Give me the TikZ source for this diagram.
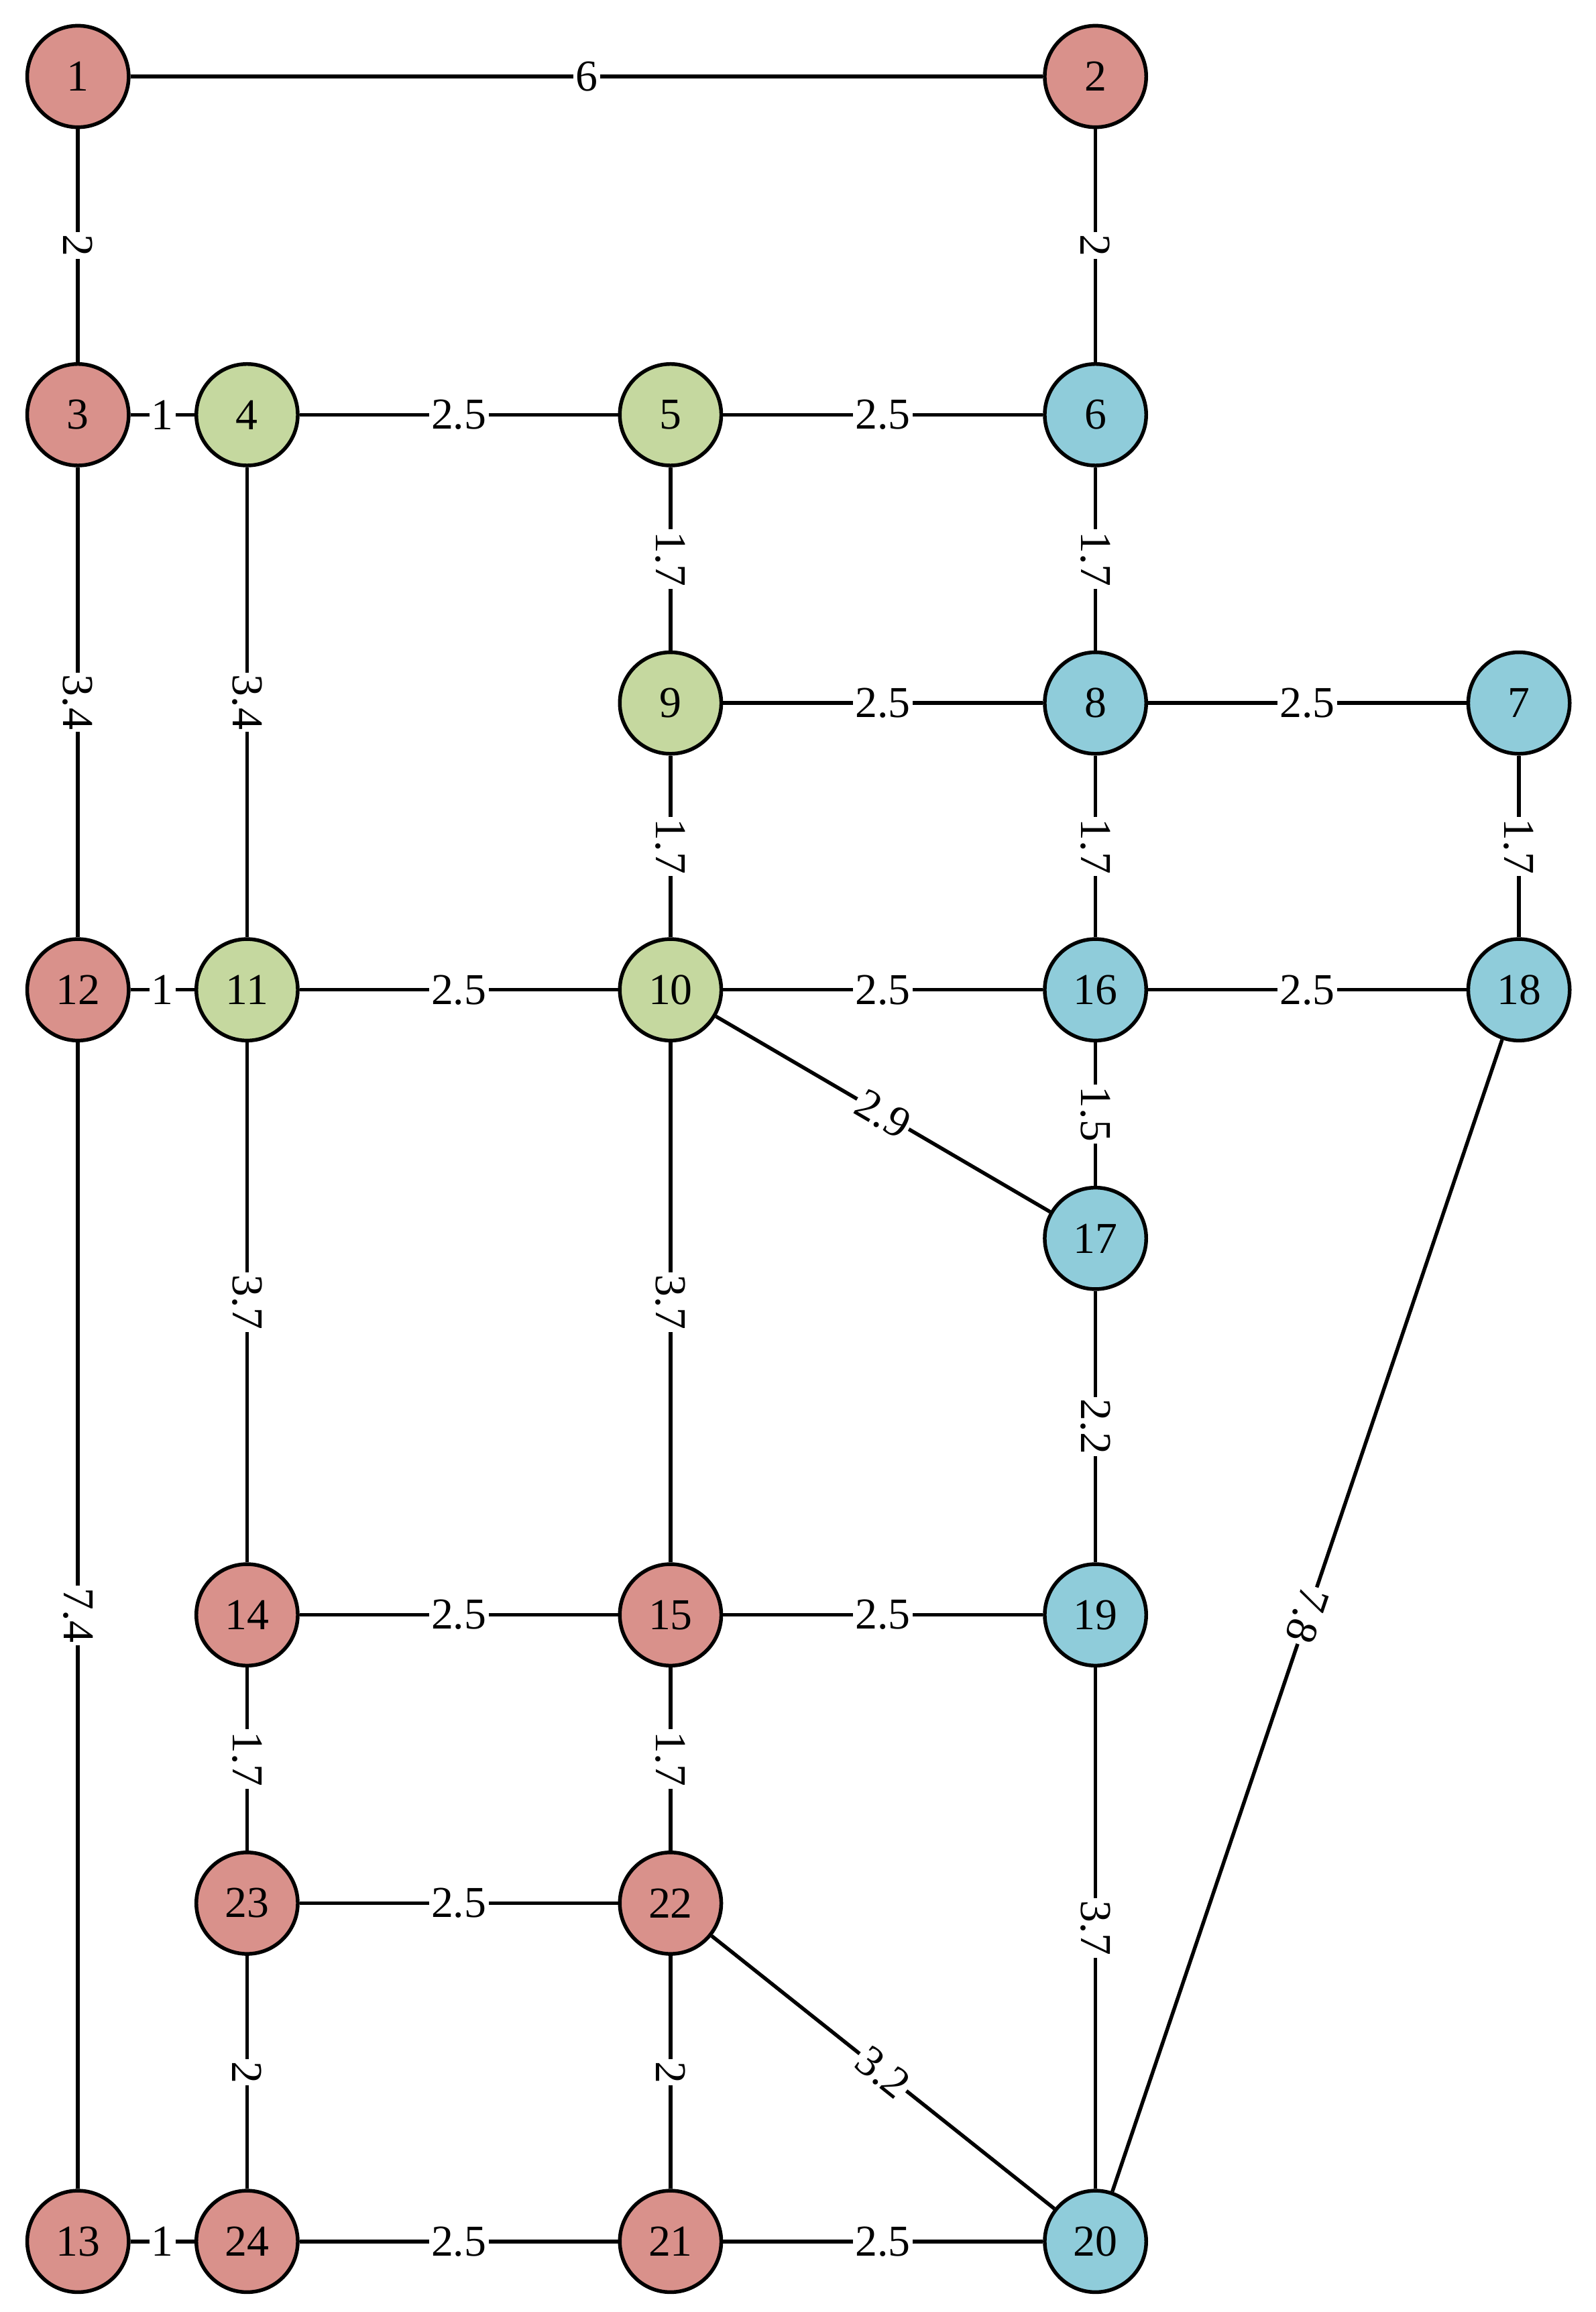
\documentclass[tikz,border=0pt]{standalone}
\usepackage{fontspec}
\setmainfont{Liberation Serif}
\begin{document}
\begin{tikzpicture}[x=1pt,y=-1pt,
  n/.style={circle,draw=black,line width=2.5pt,minimum size=69pt,inner sep=0pt,font=\fontsize{30}{32}\selectfont},
  r/.style={n,fill=red!20!white!0,fill={rgb,255:red,217;green,145;blue,139}},
  g/.style={n,fill={rgb,255:red,197;green,216;blue,159}},
  b/.style={n,fill={rgb,255:red,143;green,204;blue,218}},
  e/.style={line width=2.5pt},
  l/.style={fill=white,inner sep=1.5pt,font=\fontsize{30}{32}\selectfont,sloped,midway}]
\useasboundingbox (0,0) rectangle (1085,1572);
\node[r] (1) at (53,52) {1};
\node[r] (2) at (745,52) {2};
\node[r] (3) at (53,282) {3};
\node[g] (4) at (168,282) {4};
\node[g] (5) at (456,282) {5};
\node[b] (6) at (745,282) {6};
\node[g] (9) at (456,478) {9};
\node[b] (8) at (745,478) {8};
\node[b] (7) at (1033,478) {7};
\node[r] (12) at (53,673) {12};
\node[g] (11) at (168,673) {11};
\node[g] (10) at (456,673) {10};
\node[b] (16) at (745,673) {16};
\node[b] (18) at (1033,673) {18};
\node[b] (17) at (745,842) {17};
\node[r] (14) at (168,1098) {14};
\node[r] (15) at (456,1098) {15};
\node[b] (19) at (745,1098) {19};
\node[r] (23) at (168,1294) {23};
\node[r] (22) at (456,1294) {22};
\node[r] (13) at (53,1524) {13};
\node[r] (24) at (168,1524) {24};
\node[r] (21) at (456,1524) {21};
\node[b] (20) at (745,1524) {20};
\begin{scope}[on background layer/.style={}]
\foreach \a/\b/\w in {1/2/6,1/3/2,2/6/2,3/4/1,4/5/2.5,5/6/2.5,3/12/3.4,4/11/3.4,5/9/1.7,6/8/1.7,9/8/2.5,8/7/2.5,9/10/1.7,8/16/1.7,7/18/1.7,12/11/1,11/10/2.5,10/16/2.5,16/18/2.5,10/17/2.9,16/17/1.5,11/14/3.7,10/15/3.7,17/19/2.2,12/13/7.4,14/15/2.5,15/19/2.5,14/23/1.7,15/22/1.7,23/22/2.5,19/20/3.7,22/20/3.2,23/24/2,22/21/2,13/24/1,24/21/2.5,21/20/2.5}
  \draw[e] (\a) -- node[l]{\w} (\b);
\draw[e] (18) -- node[l,allow upside down]{7.8} (20);
\end{scope}
\end{tikzpicture}
\end{document}
